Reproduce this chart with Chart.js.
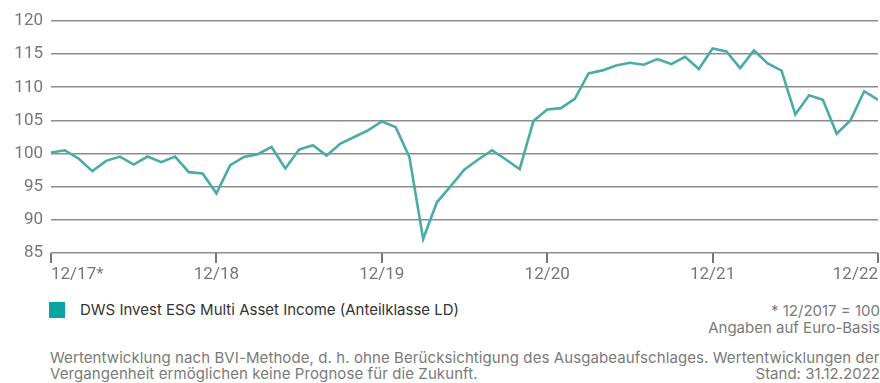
<!DOCTYPE html>
<html lang="de">
<head>
<meta charset="utf-8">
<script src="https://cdn.jsdelivr.net/npm/chart.js@4/dist/chart.umd.min.js"></script>
<style>
  html, body { margin: 0; padding: 0; background: #fff; }
  body { width: 880px; height: 383px; position: relative; overflow: hidden;
         font-family: "Inter", "Roboto", sans-serif; }
  #wrap { position: absolute; left: 0; top: 0; width: 880px; height: 285px; }
  .txt { position: absolute; white-space: nowrap; color: #7a7a7a; font-size: 15px; line-height: 15px; }
  #swatch { position: absolute; left: 49px; top: 302px; width: 16px; height: 16px; background: #0ba3a3; }
  #legend { left: 80px; top: 302px; color: #333; }
  #note1 { right: 0; top: 303px; }
  #note2 { right: 0; top: 320px; }
  #foot1 { left: 50px; top: 350px; letter-spacing: 0.09px; }
  #foot2 { left: 50px; top: 366px; letter-spacing: 0.09px; }
  #foot3 { right: 0; top: 366px; }
</style>
</head>
<body>
<div id="wrap"><canvas id="perf-chart"></canvas></div>
<div id="swatch"></div>
<div class="txt" id="legend">DWS Invest ESG Multi Asset Income (Anteilklasse LD)</div>
<div class="txt" id="note1">* 12/2017 = 100</div>
<div class="txt" id="note2">Angaben auf Euro-Basis</div>
<div class="txt" id="foot1">Wertentwicklung nach BVI-Methode, d. h. ohne Berücksichtigung des Ausgabeaufschlages. Wertentwicklungen der</div>
<div class="txt" id="foot2">Vergangenheit ermöglichen keine Prognose für die Zukunft.</div>
<div class="txt" id="foot3">Stand: 31.12.2022</div>
<script>
(function () {
    "use strict";

    // Monatswerte 12/2017 bis 12/2022, indexiert (12/2017 = 100)
    const fundValues = [
        100.15, 100.5, 99.25, 97.35, 98.9, 99.55, 98.35, 99.55, 98.7, 99.55, 97.2, 97.0,
        94.0, 98.25, 99.5, 99.9, 101.0, 97.75, 100.6, 101.25, 99.7, 101.5, 102.5, 103.5,
        104.85, 104.0, 99.5, 87.1, 92.65, 95.1, 97.6, 99.1, 100.5, 99.1, 97.65, 104.9,
        106.65, 106.85, 108.25, 112.1, 112.55, 113.3, 113.7, 113.4, 114.25, 113.5, 114.6, 112.75,
        115.85, 115.4, 112.9, 115.55, 113.6, 112.5, 105.9, 108.8, 108.1, 103.0, 105.0, 109.4,
        108.1
    ];
    const yearLabels = ["12/17*", "12/18", "12/19", "12/20", "12/21", "12/22"];
    const yTicks = [85, 90, 95, 100, 105, 110, 115, 120];

    const gridGrey = "#8c8c8c";
    const tickGrey = "#777";
    const tickFont = { family: "Roboto", size: 17 };

    const ctx = document.getElementById("perf-chart").getContext("2d");
    new Chart(ctx, {
        type: "line",
        data: {
            datasets: [
                {
                    label: "DWS Invest ESG Multi Asset Income (Anteilklasse LD)",
                    data: fundValues.map((v, i) => ({ x: i, y: v })),
                    borderColor: "#4aaba8",
                    borderWidth: 2.6,
                    pointRadius: 0,
                    tension: 0,
                    fill: false,
                },
            ],
        },
        options: {
            responsive: true,
            maintainAspectRatio: false,
            animation: false,
            layout: { padding: { top: 21, right: 1, left: 0, bottom: 0 } },
            plugins: {
                legend: { display: false },
                tooltip: { enabled: false },
            },
            scales: {
                x: {
                    type: "linear",
                    min: 0,
                    max: fundValues.length - 1,
                    afterFit: (scale) => { scale.height = 32; },
                    border: { display: false },
                    grid: {
                        drawOnChartArea: false,
                        drawTicks: true,
                        tickLength: 10,
                        color: tickGrey,
                        lineWidth: 2,
                    },
                    ticks: {
                        stepSize: 12,
                        align: "inner",
                        maxRotation: 0,
                        padding: 2,
                        color: tickGrey,
                        font: tickFont,
                        callback: (v) => yearLabels[v / 12],
                    },
                },
                y: {
                    min: yTicks[0],
                    max: yTicks[yTicks.length - 1],
                    afterFit: (scale) => { scale.width = 51; },
                    afterBuildTicks: (scale) => {
                        scale.ticks = yTicks.map((v) => ({ value: v }));
                    },
                    border: { display: false },
                    grid: {
                        drawTicks: false,
                        color: gridGrey,
                        lineWidth: 1.6,
                    },
                    ticks: {
                        padding: 8,
                        color: tickGrey,
                        font: tickFont,
                    },
                },
            },
        },
    });
})();
</script>
</body>
</html>
